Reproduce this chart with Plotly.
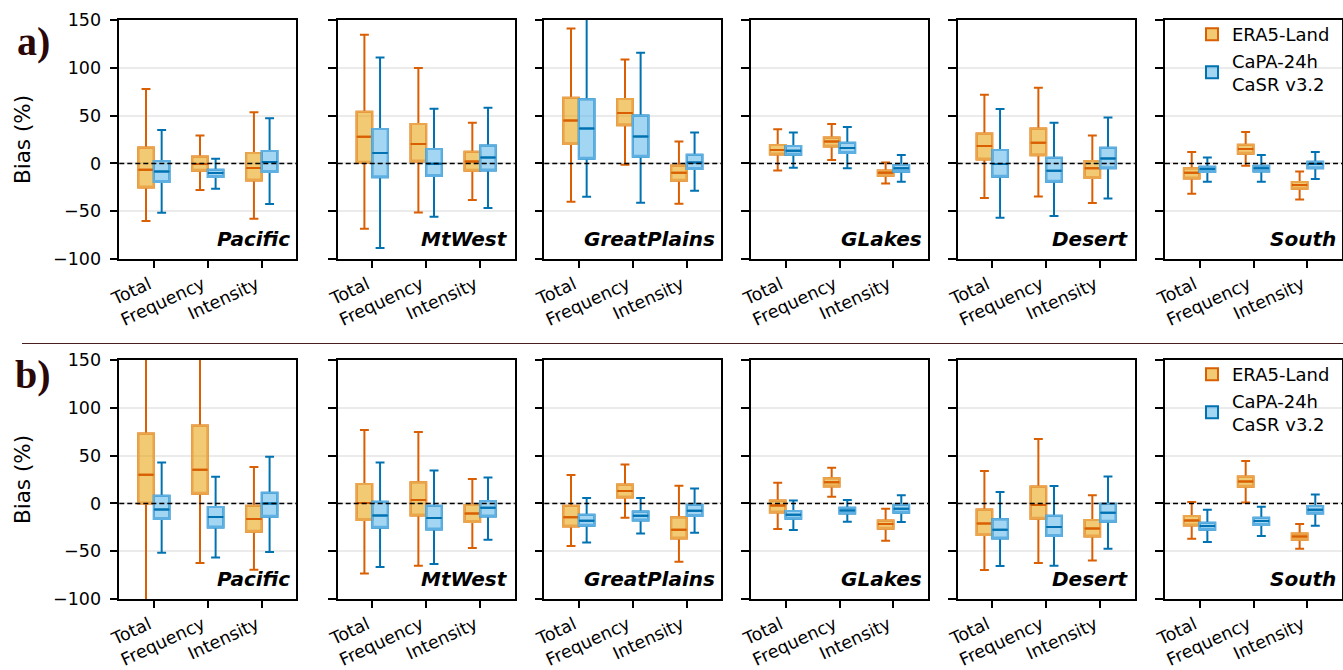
import plotly.graph_objects as go

categories = ["Total", "Frequency", "Intensity"]
regions = ["Pacific", "MtWest", "GreatPlains", "GLakes", "Desert", "South"]
series_names = ["ERA5-Land", "CaPA-24h<br>CaSR v3.2"]
ytick_vals = [-100, -50, 0, 50, 100, 150]

# ---- row a) : per region, [Total, Frequency, Intensity]
a_era5_lo  = [[-60.3, -27.9, -57.9], [-68.3, -51.3, -38.4], [-40.1, -1.4, -42.2], [-7.3, 3.5, -20.9], [-36.3, -34.5, -41.5], [-31.7, -2.4, -37.7]]
a_era5_q1  = [[-25.1, -7.7, -17.8], [0.7, 2.1, -7.7], [20.2, 39.8, -18.1], [9.4, 17.8, -12.9], [4.2, 8.4, -15.3], [-15.7, 10.1, -26.5]]
a_era5_med = [[-6.6, -0.7, -4.9], [27.9, 20.2, 2.1], [45.0, 52.7, -9.8], [13.9, 23.0, -9.8], [18.1, 21.6, -5.2], [-9.8, 15.0, -22.7]]
a_era5_q3  = [[16.7, 7.3, 10.8], [54.0, 41.1, 12.2], [68.7, 67.3, -2.1], [19.2, 27.2, -7.3], [31.4, 36.6, 2.4], [-5.2, 19.5, -19.5]]
a_era5_hi  = [[77.8, 29.3, 53.4], [134.6, 99.7, 42.5], [141.2, 108.8, 23.0], [35.6, 41.1, 1.0], [71.8, 79.2, 29.3], [11.9, 32.8, -8.4]]

a_capa_lo  = [[-51.6, -26.5, -42.5], [-88.6, -55.8, -46.7], [-34.9, -41.1, -28.6], [-4.5, -5.2, -19.2], [-56.8, -55.1, -36.6], [-19.2, -19.2, -16.4]]
a_capa_q1  = [[-19.5, -14.3, -9.1], [-14.6, -13.3, -7.3], [4.9, 7.0, -5.9], [9.1, 10.8, -8.7], [-13.9, -19.2, -5.2], [-9.1, -8.4, -5.2]]
a_capa_med = [[-8.4, -10.1, 1.4], [10.8, -0.3, 6.3], [36.6, 28.2, 1.0], [13.3, 16.0, -5.2], [-0.7, -7.7, 5.2], [-5.9, -5.2, -0.7]]
a_capa_q3  = [[2.4, -6.6, 12.9], [35.9, 15.0, 18.8], [67.0, 50.2, 9.1], [18.1, 21.6, -1.7], [13.9, 5.9, 16.4], [-3.5, -2.4, 1.7]]
a_capa_hi  = [[34.9, 4.9, 47.1], [110.9, 57.2, 58.2], [165.0, 115.8, 32.4], [32.4, 38.0, 8.7], [56.8, 42.5, 48.1], [6.3, 8.7, 11.9]]

# ---- row b)
b_era5_lo  = [[-110.0, -62.4, -69.4], [-73.2, -65.2, -46.7], [-44.6, -15.0, -61.0], [-26.9, 7.0, -39.1], [-69.7, -62.4, -59.6], [-37.0, 1.0, -47.4]]
b_era5_q1  = [[0.0, 10.1, -29.6], [-17.4, -12.6, -19.5], [-24.1, 6.3, -36.6], [-9.4, 17.8, -26.5], [-33.1, -16.0, -34.5], [-23.0, 17.4, -38.0]]
b_era5_med = [[30.0, 35.2, -16.4], [0.3, 3.5, -10.5], [-14.6, 12.9, -27.5], [-2.1, 22.0, -21.6], [-20.9, -1.7, -26.2], [-17.8, 23.0, -34.5]]
b_era5_q3  = [[73.2, 81.6, -2.4], [20.2, 22.0, -1.7], [-2.4, 19.9, -14.6], [3.1, 26.2, -17.8], [-6.3, 17.8, -17.4], [-13.3, 28.2, -31.4]]
b_era5_hi  = [[180.0, 175.0, 38.0], [76.7, 74.6, 25.5], [29.6, 40.8, 18.5], [21.6, 37.3, -5.6], [33.8, 67.3, 8.4], [1.4, 44.3, -21.6]]

b_capa_lo  = [[-51.6, -56.5, -50.9], [-66.6, -63.5, -38.0], [-40.8, -31.4, -30.7], [-27.9, -19.2, -19.5], [-65.6, -65.2, -47.4], [-40.4, -34.2, -23.4]]
b_capa_q1  = [[-16.4, -25.1, -13.9], [-25.5, -27.2, -13.6], [-23.4, -17.8, -13.3], [-16.0, -10.5, -9.8], [-36.6, -34.2, -19.2], [-27.5, -22.7, -10.5]]
b_capa_med = [[-6.3, -14.3, 0.0], [-12.6, -15.3, -4.5], [-18.1, -12.9, -7.7], [-11.9, -7.3, -5.6], [-27.5, -24.8, -9.8], [-23.7, -18.5, -6.6]]
b_capa_q3  = [[8.0, -3.8, 11.2], [1.7, -2.4, 2.4], [-11.9, -8.4, -1.4], [-8.0, -4.5, -1.4], [-16.7, -12.9, -0.3], [-20.2, -15.0, -2.8]]
b_capa_hi  = [[42.9, 27.9, 48.8], [42.9, 34.5, 27.2], [5.6, 5.6, 15.7], [3.1, 3.5, 8.4], [11.9, 18.1, 28.2], [-6.6, -3.5, 9.4]]

rows = [
    [(a_era5_lo, a_era5_q1, a_era5_med, a_era5_q3, a_era5_hi),
     (a_capa_lo, a_capa_q1, a_capa_med, a_capa_q3, a_capa_hi)],
    [(b_era5_lo, b_era5_q1, b_era5_med, b_era5_q3, b_era5_hi),
     (b_capa_lo, b_capa_q1, b_capa_med, b_capa_q3, b_capa_hi)],
]

# ---- styling / geometry
W, H = 1343, 670
FONT = "DejaVu Sans"
line_colors = ["#D95F02", "#0072B2"]
edge_colors = ["#EBA54A", "#5FB0E2"]
fill_colors = ["rgba(230,159,0,0.55)", "rgba(86,180,233,0.55)"]
panel_lefts = [119.3, 337.7, 544.3, 751.0, 957.7, 1165.0]
panel_w = 177.0
row_tops = [20, 360]
panel_h = 239

fig = go.Figure()
layout = dict(
    width=W, height=H,
    margin=dict(l=0, r=0, t=0, b=0, autoexpand=False),
    paper_bgcolor="white", plot_bgcolor="white",
    font=dict(family=FONT, size=17.5, color="black"),
    boxmode="group", boxgap=0.42, boxgroupgap=0.0,
    showlegend=True,
)
annotations = []
shapes = []

for r in range(2):
    for c, reg in enumerate(regions):
        idx = r * 6 + c + 1
        sfx = "" if idx == 1 else str(idx)
        xa, ya = "x" + sfx, "y" + sfx
        for s in range(2):
            lo, q1, med, q3, hi = rows[r][s]
            # main box: fill, whiskers, caps and median in the dark colour
            fig.add_trace(go.Box(
                x=categories,
                lowerfence=lo[c], q1=q1[c], median=med[c], q3=q3[c], upperfence=hi[c],
                name=series_names[s],
                offsetgroup=str(s),
                xaxis=xa, yaxis=ya,
                fillcolor=fill_colors[s],
                line=dict(color=line_colors[s], width=2),
                whiskerwidth=0.57,
                boxpoints=False,
                hoverinfo="skip",
                showlegend=(c == 5),
                legend="legend" if r == 0 else "legend2",
            ))
            # lighter box edge drawn over the IQR outline (same q1/q3)
            fig.add_trace(go.Box(
                x=categories,
                lowerfence=q1[c], q1=q1[c], median=q1[c], q3=q3[c], upperfence=q3[c],
                name=series_names[s],
                offsetgroup=str(s),
                xaxis=xa, yaxis=ya,
                fillcolor="rgba(0,0,0,0)",
                line=dict(color=edge_colors[s], width=2),
                whiskerwidth=0,
                boxpoints=False,
                hoverinfo="skip",
                showlegend=False,
            ))
            # redraw median on top in the dark colour
            fig.add_trace(go.Box(
                x=categories,
                lowerfence=med[c], q1=med[c], median=med[c], q3=med[c], upperfence=med[c],
                name=series_names[s],
                offsetgroup=str(s),
                xaxis=xa, yaxis=ya,
                fillcolor="rgba(0,0,0,0)",
                line=dict(color=line_colors[s], width=2),
                whiskerwidth=0,
                boxpoints=False,
                hoverinfo="skip",
                showlegend=False,
            ))
        x0 = panel_lefts[c] / W
        x1 = (panel_lefts[c] + panel_w) / W
        y1 = (H - row_tops[r]) / H
        y0 = (H - row_tops[r] - panel_h) / H
        layout["xaxis" + sfx] = dict(
            domain=[x0, x1], anchor=ya, type="category",
            categoryorder="array", categoryarray=categories,
            range=[-0.64, 2.64], automargin=False,
            showline=True, mirror=True, linecolor="black", linewidth=1.5,
            ticks="outside", ticklen=7, tickwidth=1.5, tickcolor="black",
            tickangle=-25, tickfont=dict(size=17.5), ticklabelshift=-5,
            showgrid=False, zeroline=False, fixedrange=True,
        )
        layout["yaxis" + sfx] = dict(
            domain=[y0, y1], anchor=xa, automargin=False,
            range=[-100, 150], tickvals=ytick_vals,
            showticklabels=(c == 0), tickfont=dict(size=17.5),
            ticklabelstandoff=5,
            showline=True, mirror=True, linecolor="black", linewidth=1.5,
            ticks="outside", ticklen=8, tickwidth=1.5, tickcolor="black",
            showgrid=True, gridcolor="#ebebeb", gridwidth=1.5,
            zeroline=False, fixedrange=True,
        )
        if c == 0:
            layout["yaxis" + sfx]["title"] = dict(text="Bias (%)", font=dict(size=21.5), standoff=16)
        annotations.append(dict(
            xref=xa + " domain", yref=ya + " domain", x=0.975, y=0.025,
            xanchor="right", yanchor="bottom", showarrow=False,
            text="<b><i>" + reg + "</i></b>", font=dict(size=20, color="black"),
        ))
        shapes.append(dict(
            type="line", xref=xa + " domain", yref=ya, x0=0, x1=1, y0=0, y1=0,
            line=dict(color="black", width=1.5, dash="5px,3px"), layer="above",
        ))

# panel letters
for lab, yc in [("a)", 42), ("b)", 374)]:
    annotations.append(dict(
        xref="paper", yref="paper", x=33 / W, y=(H - yc) / H,
        xanchor="center", yanchor="middle", showarrow=False,
        text="<b>" + lab + "</b>",
        font=dict(family="Liberation Serif", size=40, color="#2a0808"),
    ))

# separator line between rows
shapes.append(dict(
    type="line", xref="paper", yref="paper", x0=22 / W, x1=1, y0=(H - 343.5) / H, y1=(H - 343.5) / H,
    line=dict(color="#4a1f1f", width=1),
))

leg_common = dict(
    xanchor="left", yanchor="top", bgcolor="rgba(0,0,0,0)",
    font=dict(size=18, family=FONT), itemsizing="constant",
    tracegroupgap=4,
)
layout["legend"] = dict(x=1192 / W, y=(H - 16) / H, **leg_common)
layout["legend2"] = dict(x=1192 / W, y=(H - 356) / H, **leg_common)
layout["annotations"] = annotations
layout["shapes"] = shapes

fig.update_layout(**layout)
fig.write_html(
    "out.html",
    config={"displayModeBar": False},
    post_script="document.body.style.margin='0';document.body.style.overflow='hidden';",
)
